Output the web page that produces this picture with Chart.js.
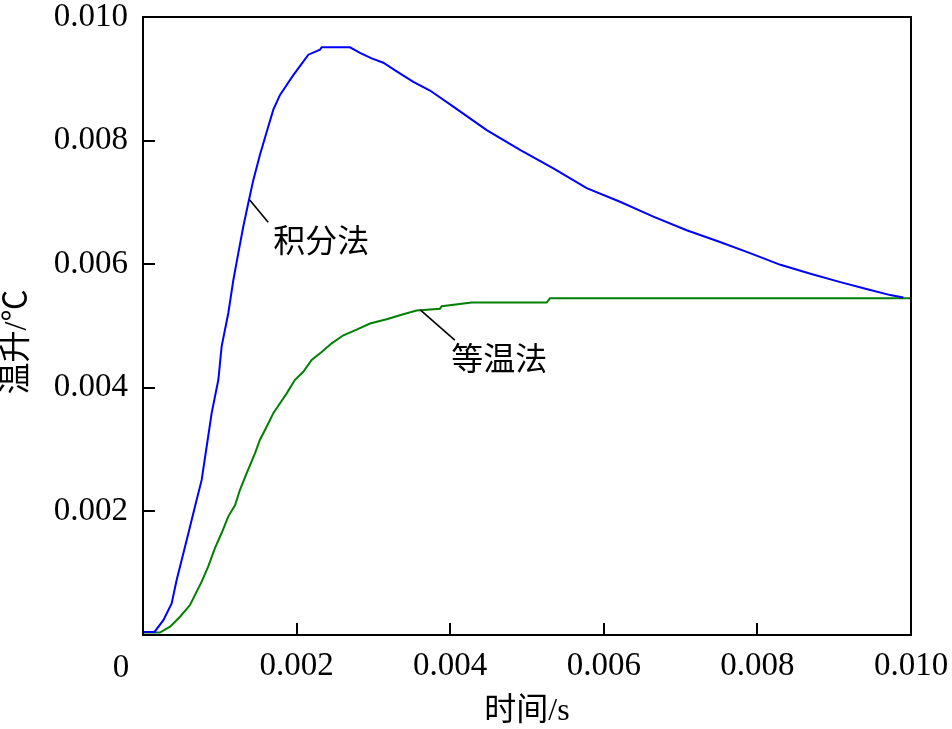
<!DOCTYPE html>
<html>
<head>
<meta charset="utf-8">
<script src="https://cdn.jsdelivr.net/npm/chart.js@4.4.0/dist/chart.umd.min.js"></script>
<style>
  html, body { margin: 0; padding: 0; background: #ffffff; }
  #wrap { width: 952px; height: 729px; }
</style>
</head>
<body>
<div id="wrap"><canvas id="c" width="952" height="729"></canvas></div>
<script>
// ---- data ----
const integralTime = [0, 0.00015, 0.000265, 0.000373, 0.000438, 0.000525, 0.000612, 0.000677, 0.000764, 0.000829, 0.000894, 0.000981, 0.001024, 0.001111, 0.001176, 0.001241, 0.001306, 0.001371, 0.001436, 0.001523, 0.00161, 0.001697, 0.001784, 0.001871, 0.001957, 0.002053, 0.002153, 0.002305, 0.002326, 0.002695, 0.002826, 0.002978, 0.003129, 0.003303, 0.00352, 0.003737, 0.00404, 0.004475, 0.004909, 0.005343, 0.005777, 0.006211, 0.006645, 0.007079, 0.007513, 0.007904, 0.0083, 0.00868, 0.00908, 0.00942, 0.00973, 0.0099];
const integralTemp = [0.00005, 0.00005, 0.00024, 0.00051, 0.00089, 0.00132, 0.00175, 0.00208, 0.00251, 0.00305, 0.00359, 0.00413, 0.00467, 0.00521, 0.00574, 0.00618, 0.00661, 0.00699, 0.00736, 0.00777, 0.00814, 0.00850, 0.00874, 0.00890, 0.00906, 0.00922, 0.00939, 0.00947, 0.00951, 0.00951, 0.00942, 0.00933, 0.00926, 0.00912, 0.00895, 0.00881, 0.00855, 0.00817, 0.00785, 0.00755, 0.00723, 0.00701, 0.00677, 0.00655, 0.00636, 0.00618, 0.00599, 0.00585, 0.00571, 0.0056, 0.0055, 0.00546];

const isoTime = [0, 0.00022, 0.000352, 0.000482, 0.000612, 0.000764, 0.00085, 0.000938, 0.001024, 0.001111, 0.001198, 0.001263, 0.00135, 0.001458, 0.001523, 0.00161, 0.001697, 0.001784, 0.001871, 0.001979, 0.002087, 0.002196, 0.002326, 0.002457, 0.002609, 0.002782, 0.002956, 0.003173, 0.003389, 0.003563, 0.003867, 0.00389, 0.00428, 0.005256, 0.0053, 0.01];
const isoTemp = [0.00004, 0.00004, 0.000135, 0.000296, 0.000485, 0.000863, 0.00111, 0.00141, 0.00165, 0.00192, 0.00210, 0.00235, 0.00262, 0.00294, 0.00316, 0.00337, 0.00359, 0.00375, 0.00391, 0.00413, 0.00426, 0.00445, 0.00458, 0.00472, 0.00485, 0.00494, 0.00504, 0.00511, 0.00519, 0.00525, 0.00528, 0.00532, 0.00538, 0.00538, 0.00545, 0.00545];

const xTickLabels = ['0', '0.002', '0.004', '0.006', '0.008', '0.010'];
const yTickLabels = ['', '0.002', '0.004', '0.006', '0.008', '0.010'];

const seriesNames = ['积分法', '等温法'];
const xTitle = '时间/s';
const yTitle = '温升/℃';

// annotation placement (data units)
const annAnchorX = [0.00139, 0.00361];
const annAnchorY = [0.00704, 0.00526];
const annEndX = [0.00163, 0.00406];
const annEndY = [0.00668, 0.00477];
const annTextX = [0.00232, 0.00464];
const annTextY = [0.00634, 0.00442];

const NUM_FONT = '"Liberation Serif", "Times New Roman", serif';
const CJK_FONT = '"Liberation Serif", "Noto Sans CJK SC", serif';

function pts(xs, ys) { return xs.map((x, i) => ({ x: x, y: ys[i] })); }

const decorPlugin = {
  id: 'decor',
  afterDatasetsDraw(chart) {
    const ctx = chart.ctx;
    const xs = chart.scales.x, ys = chart.scales.y;
    const a = chart.chartArea;
    ctx.save();
    // annotations
    ctx.strokeStyle = '#000';
    ctx.lineWidth = 1.6;
    ctx.fillStyle = '#000';
    ctx.font = '32px ' + CJK_FONT;
    ctx.textAlign = 'center';
    ctx.textBaseline = 'middle';
    for (let i = 0; i < seriesNames.length; i++) {
      ctx.beginPath();
      ctx.moveTo(xs.getPixelForValue(annAnchorX[i]), ys.getPixelForValue(annAnchorY[i]));
      ctx.lineTo(xs.getPixelForValue(annEndX[i]), ys.getPixelForValue(annEndY[i]));
      ctx.stroke();
      ctx.fillText(seriesNames[i], xs.getPixelForValue(annTextX[i]), ys.getPixelForValue(annTextY[i]));
    }
    // frame
    ctx.lineWidth = 2;
    ctx.strokeRect(a.left, a.top, a.right - a.left, a.bottom - a.top);
    // inward ticks
    const tl = 12;
    ctx.beginPath();
    xs.ticks.forEach(t => {
      const px = Math.round(xs.getPixelForValue(t.value));
      ctx.moveTo(px, a.bottom); ctx.lineTo(px, a.bottom - tl);
    });
    ys.ticks.forEach(t => {
      const py = Math.round(ys.getPixelForValue(t.value));
      ctx.moveTo(a.left, py); ctx.lineTo(a.left + tl, py);
    });
    ctx.stroke();
    // origin label for x
    ctx.font = '33px ' + NUM_FONT;
    ctx.textAlign = 'center';
    ctx.textBaseline = 'middle';
    ctx.fillText(xTickLabels[0], a.left - 22, a.bottom + 33);
    // axis titles
    ctx.font = '32px ' + CJK_FONT;
    ctx.fillText(xTitle, (a.left + a.right) / 2, a.bottom + 77);
    ctx.translate(18, (a.top + a.bottom) / 2 + 16);
    ctx.rotate(-Math.PI / 2);
    ctx.fillText(yTitle, 0, 0);
    ctx.restore();
  }
};

function zeroPad(s) {
  s.paddingTop = 0; s.paddingBottom = 0; s.paddingLeft = 0; s.paddingRight = 0;
}

new Chart(document.getElementById('c'), {
  type: 'line',
  data: {
    datasets: [
      {
        label: seriesNames[0],
        data: pts(integralTime, integralTemp),
        borderColor: '#0000ff',
        borderWidth: 2,
        pointRadius: 0,
        fill: false,
        tension: 0
      },
      {
        label: seriesNames[1],
        data: pts(isoTime, isoTemp),
        borderColor: '#008000',
        borderWidth: 2,
        pointRadius: 0,
        fill: false,
        tension: 0
      }
    ]
  },
  options: {
    responsive: false,
    animation: false,
    devicePixelRatio: 1,
    layout: { padding: { top: 17, right: 41, bottom: 0, left: 0 } },
    plugins: { legend: { display: false }, tooltip: { enabled: false }, title: { display: false } },
    scales: {
      x: {
        type: 'linear',
        min: 0, max: 0.010,
        grid: { display: false, drawTicks: false },
        border: { display: false },
        ticks: {
          stepSize: 0.002,
          padding: 12,
          maxRotation: 0,
          autoSkip: false,
          color: '#000',
          font: { family: NUM_FONT, size: 33 },
          callback: (v, i) => i === 0 ? '' : xTickLabels[i]
        },
        afterFit: s => { s.height = 94; zeroPad(s); }
      },
      y: {
        type: 'linear',
        min: 0, max: 0.010,
        grid: { display: false, drawTicks: false },
        border: { display: false },
        ticks: {
          stepSize: 0.002,
          padding: 15,
          autoSkip: false,
          color: '#000',
          font: { family: NUM_FONT, size: 33 },
          callback: (v, i) => yTickLabels[i]
        },
        afterFit: s => { s.width = 143; zeroPad(s); }
      }
    }
  },
  plugins: [decorPlugin]
});
</script>
</body>
</html>
